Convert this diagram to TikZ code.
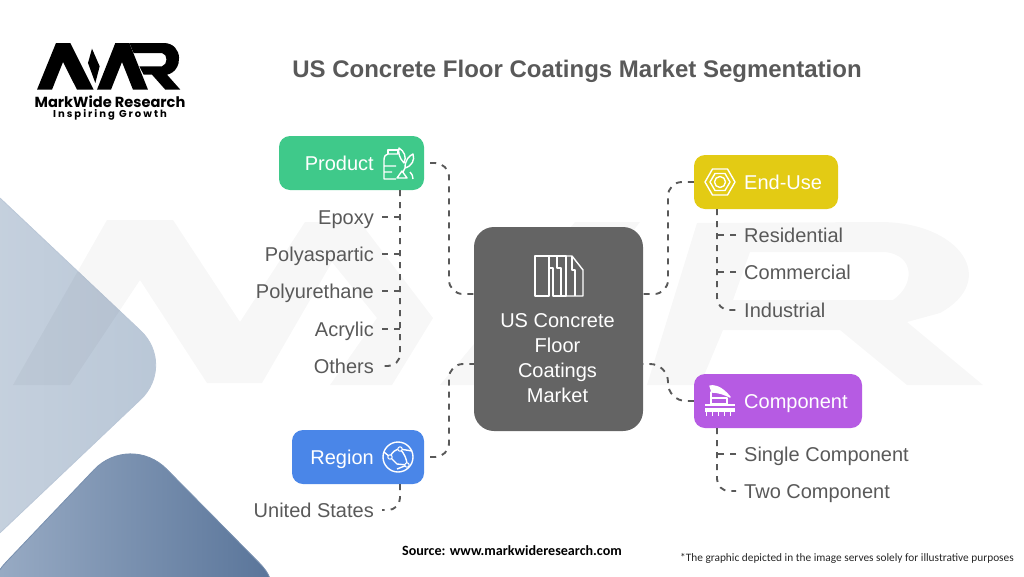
\documentclass[tikz,border=0pt]{standalone}
\usepackage{fontspec}
\setmainfont{Liberation Sans}
\newfontfamily\logofont{Poppins}
\newfontfamily\logotag[LetterSpace=20]{Poppins}
\newfontfamily\notefont{Carlito}
\definecolor{inkgray}{HTML}{595959}
\definecolor{centergray}{HTML}{646464}
\definecolor{productgreen}{HTML}{3FC98A}
\definecolor{regionblue}{HTML}{4A86E8}
\definecolor{enduseyellow}{HTML}{E3CB14}
\definecolor{componentpurple}{HTML}{B65BE3}
\definecolor{paleleft}{HTML}{CBD5E1}
\definecolor{paleright}{HTML}{B8C6D6}
\definecolor{deepleft}{HTML}{9EB0C8}
\definecolor{deepright}{HTML}{547096}
\tikzset{
	box/.style={draw=none,rounded corners=11pt,minimum height=54pt,inner sep=0pt},
	boxtext/.style={text=white,font=\fontsize{20}{24}\selectfont,inner sep=0pt,text height=14pt,text depth=0pt},
	itemleft/.style={text=inkgray,font=\fontsize{20}{24}\selectfont,inner ysep=0pt,inner xsep=8pt,text height=15pt,text depth=0pt,anchor=east},
	itemright/.style={text=inkgray,font=\fontsize{20}{24}\selectfont,inner ysep=0pt,inner xsep=8pt,text height=15pt,text depth=0pt,anchor=west},
	link/.style={draw=inkgray,line width=1.9pt,dash pattern=on 6pt off 6pt},
	icon/.style={draw=white,line width=1.4pt,line join=round}
}
\begin{document}
\begin{tikzpicture}[x=1pt,y=-1pt]
			\useasboundingbox (0,0) rectangle (1024,576);
			% diamonds at the left edge
			\begin{scope}
				\clip (0,0) rectangle (1024,576);
				\draw[left color=paleleft,right color=paleright,draw=paleright!90!paleleft,line width=0.8pt,rounded corners=50pt] (-35,165) -- (177,365) -- (-35,566) -- (-90,365) -- cycle;
				\draw[left color=deepleft,right color=deepright,draw=deepright!50!deepleft,line width=0.8pt,rounded corners=52pt] (-30,600) -- (130,432) -- (296,600) -- cycle;
			\end{scope}
			% watermark
			\fill[black,opacity=0.03,line join=round] (13,385) -- (107,220) -- (173,220) -- (240,322) -- (305,222) -- (360,222) -- (433,318) -- (392,385) -- (330,385) -- (377,318) -- (332,262) -- (262,383) -- (207,383) -- (140,280) -- (70,385) -- cycle;
			\fill[black,opacity=0.03] (440,385) -- (575,222) -- (640,222) -- (580,300) -- (520,385) -- cycle;
			\fill[black,opacity=0.03,even odd rule] (647,385) -- (697,223) -- (880,222) .. controls (960,222) and (1000,280) .. (940,313) -- (907,322) -- (983,385) -- (907,385) -- (840,330) -- (723,330) -- (700,385) -- cycle (733,300) -- (893,300) .. controls (915,285) and (915,255) .. (885,252) -- (750,252) -- cycle;
			% logo
			\begin{scope}[shift={(32,38)},x=0.3333pt,y=-0.3333pt]
				\fill[black] (15,155) -- (72,15) -- (115,15) -- (185,155) -- (135,155) -- (93,72) -- (60,155) -- cycle;
				\fill[black] (180,32) -- (203,85) -- (190,135) -- (168,75) -- cycle;
				\fill[black] (195,155) -- (250,15) -- (292,15) -- (348,155) -- (303,155) -- (270,72) -- (237,155) -- cycle;
				\fill[black] (292,15) -- (395,15) .. controls (455,15) and (455,100) .. (405,110) -- (445,155) -- (400,155) -- (360,110) -- (335,110) -- (322,85) -- (390,85) .. controls (408,80) and (408,48) .. (390,45) -- (305,45) -- cycle;
			\end{scope}
			\node[font=\logofont\bfseries\fontsize{14.6}{16}\selectfont,inner sep=0pt] (logoname) at (110,101.5) {MarkWide Research};
			\node[font=\logotag\bfseries\fontsize{10}{11}\selectfont,inner sep=0pt] (logotagline) at (110,114.5) {Inspiring Growth};
			% title
			\node[text=inkgray,font=\bfseries\fontsize{24}{28}\selectfont,inner sep=0pt] (title) at (577,71) {US Concrete Floor Coatings Market Segmentation};
			% centre box
			\node[box,fill=centergray,rounded corners=20pt,minimum width=169pt,minimum height=204pt] (market) at (558.5,329) {};
			\node[boxtext,align=center,font=\fontsize{20}{25}\selectfont,text height=,text depth=] (markettext) at (557.5,358) {US Concrete\\Floor\\Coatings\\Market};
			\coordinate (marketnw) at (474,294);
			\coordinate (marketsw) at (474,364);
			\coordinate (marketne) at (643,294);
			\coordinate (marketse) at (643,364);
			% category boxes
			\node[box,fill=productgreen,minimum width=145pt] (product) at (351.5,163) {};
			\node[box,fill=enduseyellow,minimum width=144pt] (enduse) at (766,182) {};
			\node[box,fill=componentpurple,minimum width=168pt] (component) at (778,401) {};
			\node[box,fill=regionblue,minimum width=132pt] (region) at (358,457) {};
			\node[boxtext,anchor=east] (producttext) at (374,163) {Product};
			\node[boxtext,anchor=west] (endusetext) at (744,182) {End-Use};
			\node[boxtext,anchor=west] (componenttext) at (744,401) {Component};
			\node[boxtext,anchor=east] (regiontext) at (374,457) {Region};
			% item labels
			\node[itemleft] (epoxy) at (382,217) {Epoxy};
			\node[itemleft] (polyaspartic) at (382,254) {Polyaspartic};
			\node[itemleft] (polyurethane) at (382,291) {Polyurethane};
			\node[itemleft] (acrylic) at (382,329) {Acrylic};
			\node[itemleft] (others) at (382,366) {Others};
			\node[itemleft] (unitedstates) at (382,510) {United States};
			\node[itemright] (residential) at (736,235) {Residential};
			\node[itemright] (commercial) at (736,272) {Commercial};
			\node[itemright] (industrial) at (736,310) {Industrial};
			\node[itemright] (singlecomp) at (736,454) {Single Component};
			\node[itemright] (twocomp) at (736,491) {Two Component};
			% links to the centre box
			\draw[link,rounded corners=14pt,shorten <=6pt] (product.east) -- (449,163) -- (449,294) -- (marketnw);
			\draw[link,rounded corners=14pt,shorten <=6pt] (region.east) -- (449,457) -- (449,364) -- (marketsw);
			\draw[link,rounded corners=14pt] (enduse.west) -- (668,182) -- (668,294) -- (marketne);
			\draw[link,rounded corners=18pt] (component.west) -- (668,401) -- (668,364) -- (marketse);
			% trunks
			\coordinate (producttrunk) at (400,190);
			\coordinate (regiontrunk) at (400,484);
			\coordinate (endusetrunk) at (717,209);
			\coordinate (componenttrunk) at (717,428);
			\draw[link,rounded corners=12pt] (producttrunk) |- (others.east);
			\draw[link,rounded corners=12pt] (regiontrunk) |- (unitedstates.east);
			\draw[link,rounded corners=12pt] (endusetrunk) |- (industrial.west);
			\draw[link,rounded corners=12pt] (componenttrunk) |- (twocomp.west);
			% branches
			\draw[link] (epoxy.east) -- (epoxy.east -| producttrunk);
			\draw[link] (polyaspartic.east) -- (polyaspartic.east -| producttrunk);
			\draw[link] (polyurethane.east) -- (polyurethane.east -| producttrunk);
			\draw[link] (acrylic.east) -- (acrylic.east -| producttrunk);
			\draw[link] (residential.west) -- (residential.west -| endusetrunk);
			\draw[link] (commercial.west) -- (commercial.west -| endusetrunk);
			\draw[link] (singlecomp.west) -- (singlecomp.west -| componenttrunk);
			% icon of the centre box
			\draw[icon] (535,256) rectangle (549,296);
			\draw[icon] (549,256) -- (566,256) -- (566,296) -- (553,296) -- (553,268) -- (549,268);
			\draw[icon] (557,256) -- (557,268) -- (561,268) -- (561,296);
			\draw[icon] (566,256) -- (572,256) -- (583,270) -- (583,296) -- (566,296);
			\draw[icon] (572,256) -- (572,270) -- (575,270) -- (575,296);
			% icon of the product box
			\draw[icon] (388,154) -- (388,150) -- (398,150) -- (398,154);
			\draw[icon] (384,160) .. controls (384,156) and (386,154) .. (388,154) -- (398,154) (384,160) -- (384,179) -- (396,179) (384,166) -- (396,166) (384,172) -- (392,172);
			\draw[icon] (404,163) .. controls (399,158) and (398,152) .. (399,148) .. controls (404,151) and (407,157) .. (404,163) -- cycle;
			\draw[icon] (405,168) .. controls (405,160) and (409,156) .. (413,154) .. controls (415,160) and (412,166) .. (405,168) -- (403,172);
			\draw[icon] (397,178) -- (402,171) -- (407,178) -- cycle;
			\draw[icon] (410,172) .. controls (412,174) and (413,176) .. (413,179);
			% icon of the end-use box
			\draw[icon] (705,182) -- (712.5,169) -- (727.5,169) -- (735,182) -- (727.5,195) -- (712.5,195) -- cycle;
			\draw[icon] (710,182) -- (715,173.5) -- (725,173.5) -- (730,182) -- (725,190.5) -- (715,190.5) -- cycle;
			\draw[icon] (720,182) circle (5.5);
			% icon of the component box
			\draw[icon,fill=white] (710,386) .. controls (718,385) and (724,390) .. (730,397) .. controls (724,394) and (718,392) .. (712,392) -- cycle;
			\draw[icon] (711,392) -- (711,398) -- (727,398) -- (727,404) -- (711,404) -- cycle;
			\draw[icon] (705,405) -- (735,405);
			\fill[white] (705,408) rectangle (735,412);
			\draw[icon,line width=1pt] (706,412) -- (706,416) (712,412) -- (712,416) (718,412) -- (718,416) (724,412) -- (724,416) (730,412) -- (730,416);
			% icon of the region box
			\draw[icon] (398,457) circle (15);
			\draw[icon] (384,452) -- (390,457) .. controls (392,452) and (396,449) .. (400,449) .. controls (404,453) and (407,459) .. (407,465) -- (397,469);
			\draw[icon] (390,457) -- (397,464) -- (407,465) (400,449) -- (412,451);
			\draw[icon,line width=1pt,fill=regionblue] (390,457) circle (2.2) (400,449) circle (2.2) (407,465) circle (2.2);
			% footer
			\node[font=\notefont\bfseries\fontsize{14.1}{16}\selectfont,inner sep=0pt] (source) at (512,551) {Source: www.markwideresearch.com};
			\node[font=\notefont\fontsize{11.35}{14}\selectfont,text=black!85,inner sep=0pt,anchor=east] (note) at (1014,558) {*The graphic depicted in the image serves solely for illustrative purposes};
		\end{tikzpicture}
\end{document}
